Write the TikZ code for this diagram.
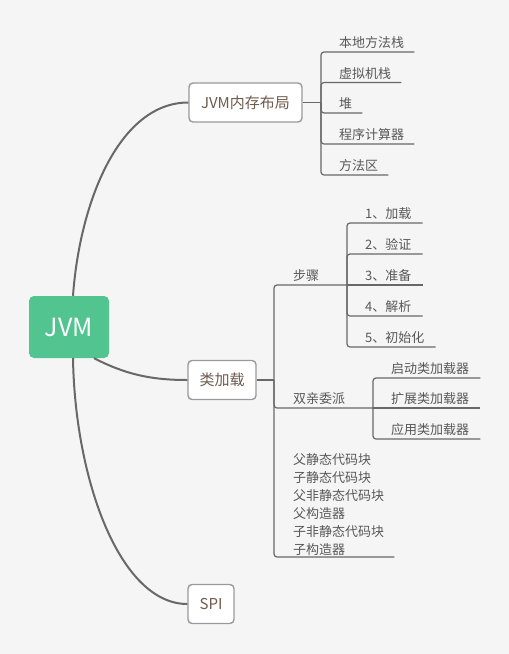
\documentclass[tikz,border=0pt]{standalone}
\usepackage{fontspec}
\setmainfont{Noto Sans CJK SC}
\usetikzlibrary{positioning,calc}
\definecolor{jvmgreen}{HTML}{51C48F}
\definecolor{linegray}{HTML}{686868}
\definecolor{boxgray}{HTML}{9A9A9A}
\definecolor{boxtext}{HTML}{6E5B4C}
\definecolor{leaftext}{HTML}{585858}
\definecolor{bggray}{HTML}{F5F5F5}

\begin{document}
\begin{tikzpicture}[x=1pt, y=-1pt,
    root/.style={rectangle, rounded corners=5pt, fill=jvmgreen, text=white, minimum width=80pt, minimum height=62pt, font=\fontsize{25}{30}\selectfont},
    topic/.style={rectangle, rounded corners=4pt, draw=boxgray, line width=1.4pt, fill=white, text=boxtext, minimum height=39pt, inner xsep=0pt, font=\fontsize{15}{18}\selectfont},
    leaf/.style={anchor=south west, xshift=18pt, inner xsep=0pt, inner ysep=3pt, text=leaftext, font=\fontsize{13}{18}\selectfont},
    branch/.style={draw=linegray, line width=2pt},
    twig/.style={draw=linegray, line width=1.2pt, rounded corners=3pt}]
    \fill[bggray] (0,0) rectangle (509,654);

    % main topics
    \node[root] (jvm) at (69,327) {JVM};
    \node[topic, minimum width=113pt] (mem) at (245.5,102.5) {JVM内存布局};
    \node[topic, minimum width=68pt] (cls) at (222,380) {类加载};
    \node[topic, minimum width=46pt] (spi) at (211,604) {SPI};

    \draw[branch] ([xshift=4pt]jvm.north) .. controls (80,200) and (120,102.5) .. (mem.west);
    \draw[branch] ([xshift=25pt]jvm.south) .. controls (125,374) and (150,380) .. (cls.west);
    \draw[branch] ([xshift=4pt]jvm.south) .. controls (75,480) and (120,604) .. (spi.west);

    % memory layout
    \coordinate (memhub) at (321,102.5);
    \draw[twig] (mem.east) -- (memhub);
    \node[leaf] (m1) at (321,52) {本地方法栈};
    \node[leaf] (m2) at (321,82.5) {虚拟机栈};
    \node[leaf] (m3) at (321,113) {堆};
    \node[leaf] (m4) at (321,144) {程序计算器};
    \node[leaf] (m5) at (321,175) {方法区};
    \foreach \n in {m1,m2,m3,m4,m5}
        \draw[twig] (memhub) |- ([xshift=10pt]\n.south east);

    % class loading
    \coordinate (clshub) at (274,380);
    \draw[twig] (cls.east) -- (clshub);
    \node[leaf, xshift=1pt] (steps) at (274,285) {步骤};
    \coordinate (stephub) at (347,285);
    \draw[twig] (clshub) |- (stephub);
    \node[leaf] (s1) at (347,223) {1、加载};
    \node[leaf] (s2) at (347,254) {2、验证};
    \node[leaf] (s3) at (347,285) {3、准备};
    \node[leaf] (s4) at (347,316) {4、解析};
    \node[leaf] (s5) at (347,347) {5、初始化};
    \foreach \n in {s1,s2,s4,s5}
        \draw[twig] (stephub) |- ([xshift=11pt]\n.south east);
    \draw[twig] (stephub) -- ([xshift=11pt]s3.south east);

    \node[leaf, xshift=1pt] (parents) at (274,408) {双亲委派};
    \coordinate (parhub) at (373,408);
    \draw[twig] (clshub) |- (parhub);
    \node[leaf] (p1) at (373,378) {启动类加载器};
    \node[leaf] (p2) at (373,408) {扩展类加载器};
    \node[leaf] (p3) at (373,439) {应用类加载器};
    \draw[twig] (parhub) |- ([xshift=11pt]p1.south east);
    \draw[twig] (parhub) -- ([xshift=11pt]p2.south east);
    \draw[twig] (parhub) |- ([xshift=11pt]p3.south east);

    \node[leaf, xshift=1pt, align=left, inner ysep=1.5pt] (order) at (274,557)
        {父静态代码块\\子静态代码块\\父非静态代码块\\父构造器\\子非静态代码块\\子构造器};
    \draw[twig] (clshub) |- ([xshift=10pt]order.south east);
\end{tikzpicture}
\end{document}
